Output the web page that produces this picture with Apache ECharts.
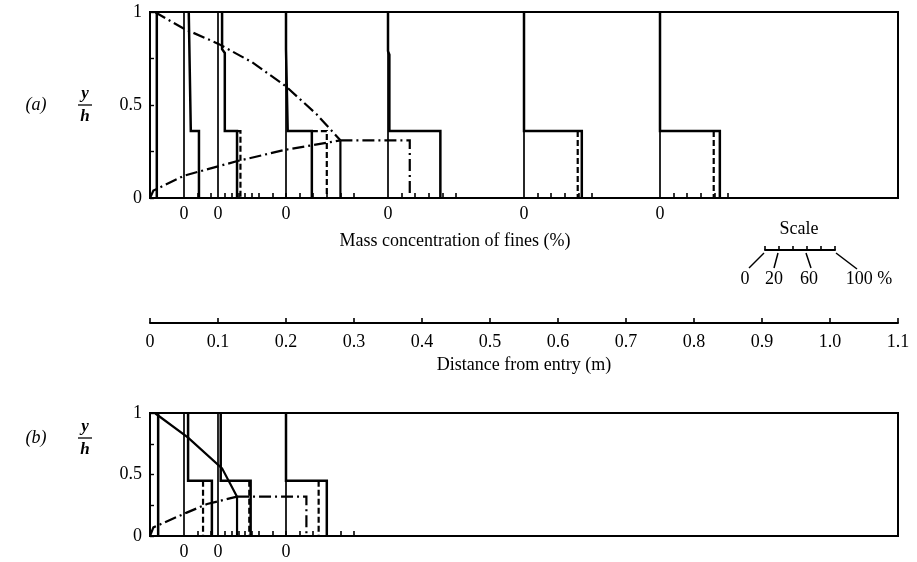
<!DOCTYPE html>
<html><head><meta charset="utf-8">
<script src="https://cdn.jsdelivr.net/npm/echarts@6/dist/echarts.min.js"></script>
<style>html,body{margin:0;padding:0;background:#fff}#c{width:917px;height:562px}</style>
</head><body><div id="c"></div>
<script>
// ---------- data ----------
const concScale = 0.1;               // metres of plot per 100 % concentration
const concTicks = [20, 40, 60, 80, 100];
const scaleLabels = ['0', '20', '60', '100 %'];

// panel (a)
const stationsA = [0, 0.05, 0.1, 0.2, 0.35, 0.55, 0.75];
const interfaceA = 0.36;
const upperProfileA = [
  [[10, 1], [10, 0.36]],
  [[7, 1], [10, 0.36]],
  [[6, 1], [6, 0.8], [10, 0.78], [10, 0.36]],
  [[0, 1], [0, 0.8], [2.5, 0.79], [2.5, 0.36]],
  [[0, 1], [0, 0.79], [2, 0.77], [2, 0.36]],
  [[0, 1], [0, 0.36]],
  [[0, 1], [0, 0.36]]
];
const lowerConcA = [10, 22, 28, 38, 77, 85, 88];
const dashedConcA = [null, null, 33, 60, null, 79, 79];
const upperBoundA = [[0.007, 1], [0.05, 0.91], [0.1, 0.83], [0.15, 0.73], [0.2, 0.6], [0.245, 0.45], [0.28, 0.31]];
const lowerBoundA = [[0, 0], [0.005, 0.04], [0.05, 0.12], [0.1, 0.17], [0.13, 0.2], [0.2, 0.26], [0.265, 0.3], [0.28, 0.31]];
const tailA = [[0.28, 0.31], [0.382, 0.31], [0.382, 0]];
const dropA = [[0.28, 0.31], [0.28, 0]];

// panel (b)
const stationsB = [0, 0.05, 0.1, 0.2];
const interfaceB = 0.45;
const upperProfileB = [
  [[12, 1], [12, 0.45]],
  [[6, 1], [6, 0.45]],
  [[4, 1], [4, 0.45]],
  [[0, 1], [0, 0.45]]
];
const lowerConcB = [12, 41, 48, 60];
const dashedConcB = [null, 28, 46, 48];
const upperBoundB = [[0.007, 1], [0.056, 0.8], [0.106, 0.55], [0.128, 0.32]];
const lowerBoundB = [[0, 0], [0.005, 0.07], [0.054, 0.19], [0.084, 0.26], [0.128, 0.32]];
const tailB = [[0.128, 0.32], [0.23, 0.32], [0.23, 0]];
const dropB = [[0.128, 0.32], [0.128, 0]];

// distance axis
const distMin = 0, distMax = 1.1, distStep = 0.1;

// ---------- build ----------
const FONT = '"Liberation Serif", "DejaVu Serif", serif';
const FS = 18;
const BLACK = '#000';
const DASHDOT = [12, 4, 2, 4];
const px = (s, c) => s + c / 100 * concScale;

function line(data, width, type, gi) {
  return { type: 'line', xAxisIndex: gi, yAxisIndex: gi, data, symbol: 'none', silent: true,
    animation: false, lineStyle: { color: BLACK, width, type, cap: 'butt', join: 'miter' }, z: 3 };
}
function panelSeries(stations, iface, upper, lower, dashed, gi) {
  const out = [];
  stations.forEach((s, i) => {
    if (s > 0) out.push(line([[s, 0], [s, 1]], 1.7, 'solid', gi));
    const pts = upper[i].map(p => [px(s, p[0]), p[1]]);
    pts.push([px(s, lower[i]), iface], [px(s, lower[i]), 0]);
    out.push(line(pts, 2.5, 'solid', gi));
    if (dashed[i] != null) {
      const d = dashed[i];
      out.push(line([[px(s, Math.min(d, lower[i])), iface], [px(s, d), iface], [px(s, d), 0]], 2.2, [6, 3], gi));
    }
  });
  return out;
}
function tickValues(stations) {
  const t = [];
  stations.filter(s => s > 0).forEach(s => concTicks.forEach(c => t.push(px(s, c))));
  return t;
}

const series = [
  ...panelSeries(stationsA, interfaceA, upperProfileA, lowerConcA, dashedConcA, 0),
  line(upperBoundA, 2.2, DASHDOT, 0), line(lowerBoundA, 2.2, DASHDOT, 0),
  line(tailA, 2.2, DASHDOT, 0), line(dropA, 2.2, 'solid', 0),
  ...panelSeries(stationsB, interfaceB, upperProfileB, lowerConcB, dashedConcB, 2),
  line(upperBoundB, 2.2, 'solid', 2), line(lowerBoundB, 2.2, DASHDOT, 2),
  line(tailB, 2.2, DASHDOT, 2), line(dropB, 2.2, 'solid', 2)
];

const axLine = { show: true, lineStyle: { color: BLACK, width: 2 } };
const lbl = { color: BLACK, fontFamily: FONT, fontSize: FS };

function panelX(gi, stations) {
  return { gridIndex: gi, type: 'value', min: distMin, max: distMax, interval: distStep,
    axisLine: axLine, splitLine: { show: false },
    axisTick: { show: true, inside: true, length: 5, customValues: tickValues(stations), lineStyle: { color: BLACK, width: 1.6 } },
    axisLabel: Object.assign({ customValues: stations.filter(s => s > 0), formatter: () => '0', margin: 7 }, lbl) };
}
function panelY(gi) {
  return { gridIndex: gi, type: 'value', min: 0, max: 1, interval: 0.25,
    axisLine: axLine, splitLine: { show: false },
    axisTick: { show: true, inside: true, length: 4, lineStyle: { color: BLACK, width: 1.4 } },
    axisLabel: Object.assign({ margin: 8, formatter: v => (v === 0 || v === 0.5 || v === 1) ? String(v) : '' }, lbl) };
}
const txt = (text, x, y, font) => ({ type: 'text', style: { text, x, y, fill: BLACK, font: font || (FS + 'px ' + FONT), textAlign: 'center', textVerticalAlign: 'middle' } });
const seg = (x1, y1, x2, y2, w) => ({ type: 'line', shape: { x1, y1, x2, y2 }, style: { stroke: BLACK, lineWidth: w || 1.5 } });

const chart = echarts.init(document.getElementById('c'), null, { renderer: 'canvas' });
chart.setOption({
  animation: false,
  backgroundColor: '#fff',
  grid: [
    { left: 150, width: 748, top: 12, height: 186, show: true, borderColor: BLACK, borderWidth: 2 },
    { left: 150, width: 748, top: 290, height: 33 },
    { left: 150, width: 748, top: 413, height: 123, show: true, borderColor: BLACK, borderWidth: 2 },
    { left: 765, width: 70, top: 230, height: 20 }
  ],
  xAxis: [
    panelX(0, stationsA),
    { gridIndex: 1, type: 'value', min: distMin, max: distMax, interval: distStep, position: 'bottom',
      axisLine: axLine, splitLine: { show: false },
      axisTick: { show: true, inside: true, length: 5, lineStyle: { color: BLACK, width: 1.6 } },
      axisLabel: Object.assign({ margin: 10, formatter: v => v === 0 ? '0' : v.toFixed(1) }, lbl),
      name: 'Distance from entry (m)', nameLocation: 'middle', nameGap: 33,
      nameTextStyle: { color: BLACK, fontFamily: FONT, fontSize: FS } },
    panelX(2, stationsB),
    { gridIndex: 3, type: 'value', min: 0, max: 100, interval: 20,
      axisLine: axLine, splitLine: { show: false },
      axisTick: { show: true, inside: true, length: 4, lineStyle: { color: BLACK, width: 1.6 } },
      axisLabel: { show: false } }
  ],
  yAxis: [
    panelY(0),
    { gridIndex: 1, show: false, min: 0, max: 1 },
    panelY(2),
    { gridIndex: 3, show: false, min: 0, max: 1 }
  ],
  series,
  graphic: [
    txt('Mass concentration of fines (%)', 455, 241),
    txt('(a)', 36, 105, 'italic ' + FS + 'px ' + FONT),
    txt('(b)', 36, 438, 'italic ' + FS + 'px ' + FONT),
    txt('y', 85, 94, 'italic bold 17px ' + FONT),
    seg(78, 105, 92, 105, 1.3),
    txt('h', 85, 117, 'italic bold 17px ' + FONT),
    txt('y', 85, 427, 'italic bold 17px ' + FONT),
    seg(78, 438, 92, 438, 1.3),
    txt('h', 85, 450, 'italic bold 17px ' + FONT),
    txt('Scale', 799, 229),
    seg(764, 253, 749, 268), seg(778, 253, 774, 268), seg(806, 253, 811, 268), seg(836, 253, 857, 269),
    txt(scaleLabels[0], 745, 279), txt(scaleLabels[1], 774, 279),
    txt(scaleLabels[2], 809, 279), txt(scaleLabels[3], 869, 279)
  ]
});
</script></body></html>
